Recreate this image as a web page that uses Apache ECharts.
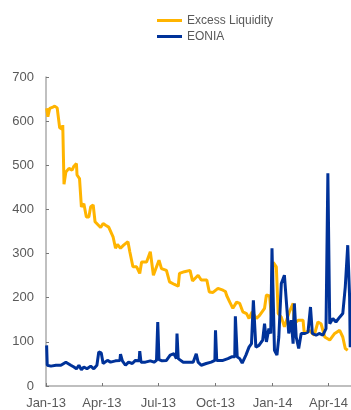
<!DOCTYPE html>
<html>
<head>
<meta charset="utf-8">
<script src="https://cdn.jsdelivr.net/npm/echarts@6/dist/echarts.min.js"></script>
<style>
  html, body { margin: 0; padding: 0; background: #fff; }
  #main { width: 351px; height: 410px; }
</style>
</head>
<body>
<div id="main"></div>
<script>
// excess liquidity (EUR bn)
var liqDates = [
  '2013-01-02', '2013-01-04', '2013-01-07', '2013-01-11', '2013-01-15', '2013-01-19', '2013-01-23', '2013-01-27',
  '2013-01-28', '2013-01-30', '2013-02-02', '2013-02-07', '2013-02-12', '2013-02-15', '2013-02-19', '2013-02-20',
  '2013-02-24', '2013-02-27', '2013-03-03', '2013-03-07', '2013-03-11', '2013-03-14', '2013-03-18', '2013-03-21',
  '2013-03-24', '2013-03-30', '2013-04-03', '2013-04-07', '2013-04-12', '2013-04-15', '2013-04-19', '2013-04-23',
  '2013-04-26', '2013-05-01', '2013-05-06', '2013-05-13', '2013-05-16', '2013-05-21', '2013-05-27', '2013-06-01',
  '2013-06-04', '2013-06-12', '2013-06-18', '2013-06-23', '2013-06-27', '2013-07-02', '2013-07-06', '2013-07-14',
  '2013-07-19', '2013-07-27', '2013-08-02', '2013-08-04', '2013-08-12', '2013-08-21', '2013-08-25', '2013-09-03',
  '2013-09-08', '2013-09-17', '2013-09-21', '2013-09-27', '2013-10-05', '2013-10-13', '2013-10-17', '2013-10-19',
  '2013-10-24', '2013-10-29', '2013-11-04', '2013-11-09', '2013-11-14', '2013-11-20', '2013-11-24', '2013-11-29',
  '2013-12-06', '2013-12-11', '2013-12-19', '2013-12-22', '2013-12-27', '2013-12-30', '2014-01-02', '2014-01-07',
  '2014-01-10', '2014-01-15', '2014-01-20', '2014-01-28', '2014-02-03', '2014-02-05', '2014-02-11', '2014-02-19',
  '2014-02-21', '2014-03-01', '2014-03-09', '2014-03-15', '2014-03-20', '2014-03-26', '2014-04-03', '2014-04-11',
  '2014-04-19', '2014-04-24', '2014-04-28', '2014-05-02'
];
var liqValues = [
  629, 610, 629, 631, 634, 630, 585, 582,
  591, 457, 485, 493, 489, 498, 504, 478,
  470, 406, 413, 383, 383, 406, 410, 372,
  368, 359, 368, 364, 360, 364, 338, 312,
  321, 312, 319, 327, 304, 270, 270, 255,
  281, 281, 304, 251, 266, 285, 266, 262,
  236, 230, 226, 255, 259, 262, 238, 251,
  240, 240, 213, 212, 221, 217, 214, 205,
  190, 176, 190, 187, 168, 164, 153, 168,
  153, 160, 176, 206, 204, 160, 280, 270,
  164, 156, 134, 168, 187, 141, 149, 149,
  119, 126, 115, 145, 141, 111, 104, 119,
  126, 111, 85, 81
];

// EONIA (basis points)
var eoniaDates = [
  '2013-01-02', '2013-01-03', '2013-01-09', '2013-01-17', '2013-01-25', '2013-02-02', '2013-02-05', '2013-02-10',
  '2013-02-15', '2013-02-19', '2013-02-23', '2013-02-27', '2013-03-03', '2013-03-08', '2013-03-14', '2013-03-19',
  '2013-03-24', '2013-03-27', '2013-03-31', '2013-04-03', '2013-04-10', '2013-04-15', '2013-04-23', '2013-04-30',
  '2013-05-01', '2013-05-04', '2013-05-09', '2013-05-14', '2013-05-20', '2013-05-25', '2013-05-31', '2013-06-01',
  '2013-06-03', '2013-06-10', '2013-06-18', '2013-06-24', '2013-06-28', '2013-06-30', '2013-07-02', '2013-07-07',
  '2013-07-14', '2013-07-20', '2013-07-26', '2013-07-30', '2013-07-31', '2013-08-02', '2013-08-10', '2013-08-18',
  '2013-08-26', '2013-08-31', '2013-09-03', '2013-09-08', '2013-09-16', '2013-09-24', '2013-09-30', '2013-10-01',
  '2013-10-03', '2013-10-13', '2013-10-21', '2013-10-27', '2013-11-01', '2013-11-02', '2013-11-05', '2013-11-09',
  '2013-11-13', '2013-11-19', '2013-11-24', '2013-11-28', '2013-12-01', '2013-12-05', '2013-12-10', '2013-12-16',
  '2013-12-19', '2013-12-22', '2013-12-26', '2013-12-29', '2013-12-31', '2014-01-04', '2014-01-08', '2014-01-11',
  '2014-01-15', '2014-01-20', '2014-01-23', '2014-01-27', '2014-01-31', '2014-02-03', '2014-02-05', '2014-02-08',
  '2014-02-12', '2014-02-16', '2014-02-21', '2014-02-27', '2014-03-03', '2014-03-06', '2014-03-12', '2014-03-17',
  '2014-03-23', '2014-03-28', '2014-03-31', '2014-04-03', '2014-04-08', '2014-04-13', '2014-04-19', '2014-04-24',
  '2014-04-28', '2014-05-02', '2014-05-05', '2014-05-06'
];
var eoniaValues = [
  92, 47, 45, 47, 47, 54, 51, 47,
  43, 39, 47, 37, 43, 39, 45, 39,
  47, 77, 75, 51, 58, 54, 57, 58,
  72, 57, 47, 54, 51, 58, 57, 79,
  54, 54, 57, 54, 58, 145, 60, 57,
  58, 70, 73, 62, 119, 62, 54, 54,
  54, 73, 54, 47, 51, 54, 58, 126,
  58, 58, 62, 66, 66, 158, 66, 62,
  52, 70, 88, 96, 194, 88, 92, 104,
  141, 100, 130, 119, 312, 81, 70, 111,
  232, 251, 194, 119, 149, 96, 187, 111,
  85, 119, 119, 122, 179, 119, 115, 119,
  115, 130, 482, 141, 153, 145, 156, 164,
  224, 319, 202, 88
];

var xTicks = ['2013-01-01', '2013-04-01', '2013-07-01', '2013-10-01', '2014-01-01', '2014-04-01'];
var monthNames = ['Jan', 'Feb', 'Mar', 'Apr', 'May', 'Jun', 'Jul', 'Aug', 'Sep', 'Oct', 'Nov', 'Dec'];

function toTime(s) {
  var p = s.split('-');
  return new Date(+p[0], +p[1] - 1, +p[2]).getTime();
}
function pairs(dates, vals) {
  return dates.map(function(d, i) { return [toTime(d), vals[i]]; });
}

var chart = echarts.init(document.getElementById('main'));
var tickTimes = xTicks.map(toTime);
var axisGrey = '#ababab';
var textGrey = '#595959';

chart.setOption({
  animation: false,
  color: ['#FFB400', '#003299'],
  legend: {
    orient: 'vertical',
    left: 157,
    top: 14,
    padding: 0,
    icon: 'rect',
    itemWidth: 25,
    itemHeight: 3,
    itemGap: 3,
    textStyle: { color: textGrey, fontSize: 12, fontFamily: 'Liberation Sans, Arial', lineHeight: 13 },
    data: ['Excess Liquidity', 'EONIA']
  },
  grid: { left: 46, right: 0, top: 77, bottom: 24, containLabel: false },
  xAxis: {
    // day timestamps on a plain value axis, quarterly ticks
    type: 'value',
    min: toTime('2013-01-01'),
    max: toTime('2014-05-07'),
    axisLine: { lineStyle: { color: axisGrey, width: 1.5 } },
    axisTick: { show: true, inside: true, length: 3, customValues: tickTimes, lineStyle: { color: '#777' } },
    axisLabel: {
      customValues: tickTimes,
      color: textGrey,
      fontSize: 13,
      fontFamily: 'Liberation Sans, Arial',
      margin: 11,
      showMinLabel: true,
      formatter: function(v) {
        var d = new Date(v);
        return monthNames[d.getMonth()] + '-' + String(d.getFullYear()).slice(2);
      }
    },
    splitLine: { show: false }
  },
  yAxis: {
    type: 'value',
    min: 0,
    max: 700,
    interval: 100,
    axisLine: { show: true, lineStyle: { color: axisGrey, width: 1.5 } },
    axisTick: { show: true, inside: true, length: 3, lineStyle: { color: '#777' } },
    axisLabel: { color: textGrey, fontSize: 13, fontFamily: 'Liberation Sans, Arial', margin: 12 },
    splitLine: { show: false }
  },
  series: [
    {
      name: 'Excess Liquidity',
      type: 'line',
      showSymbol: false,
      lineStyle: { width: 3 },
      data: pairs(liqDates, liqValues)
    },
    {
      name: 'EONIA',
      type: 'line',
      showSymbol: false,
      lineStyle: { width: 3 },
      data: pairs(eoniaDates, eoniaValues)
    }
  ]
});
</script>
</body>
</html>
